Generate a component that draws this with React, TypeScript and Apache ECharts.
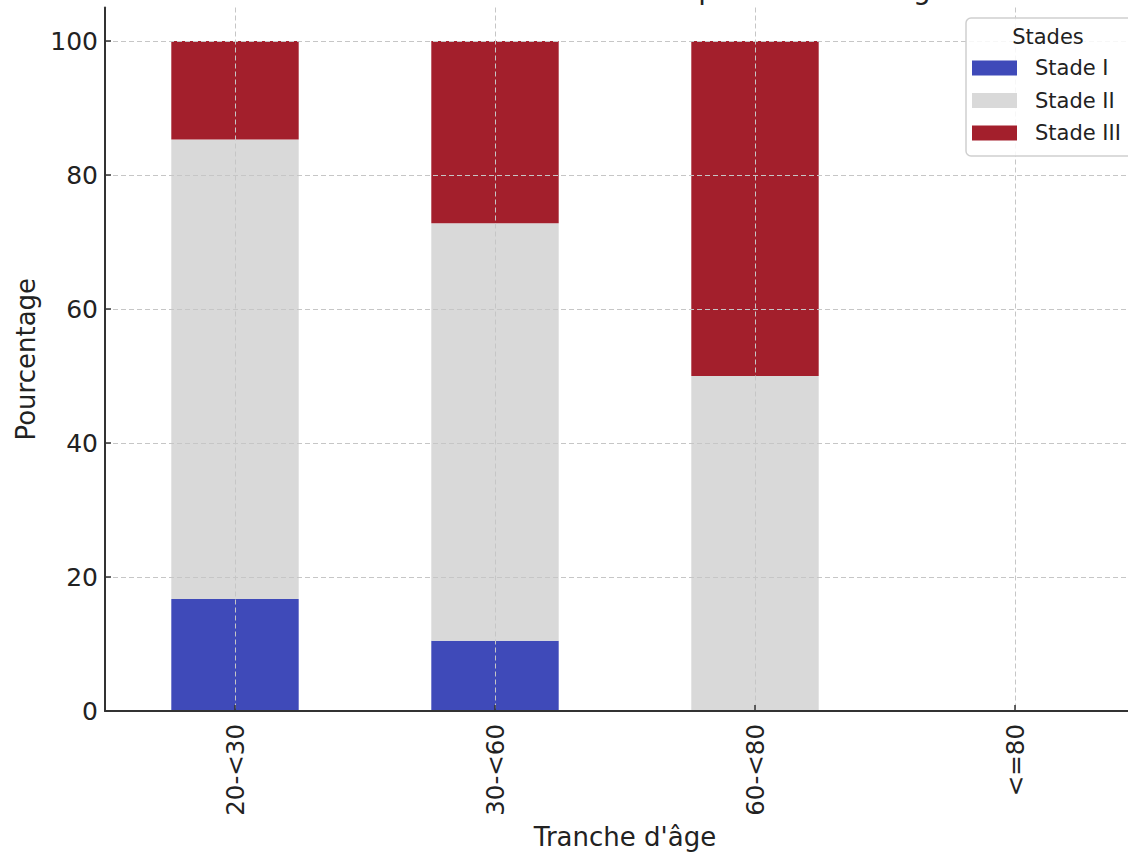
import React, { useEffect, useRef } from "react";
import * as echarts from "echarts";

const categories = ["20-<30", "30-<60", "60-<80", "<=80"];
const stadeI = [16.7, 10.5, 0, 0];
const stadeII = [68.6, 62.3, 50, 0];
const stadeIII = [14.7, 27.2, 50, 0];
const seriesNames = ["Stade I", "Stade II", "Stade III"];
const seriesColors = ["#3f4ab9", "#d9d9d9", "#a31f2c"];
const yTicks = { min: 0, max: 105, interval: 20 };

const FONT = "DejaVu Sans";

export default function App() {
  const ref = useRef<HTMLDivElement>(null);
  useEffect(() => {
    if (!ref.current) return;
    const chart = echarts.init(ref.current, undefined, { renderer: "svg" });
    const values = [stadeI, stadeII, stadeIII];
    const gridLine = { color: "#c6c6c6", width: 1, type: [5, 3] as number[] };
    chart.setOption({
      animation: false,
      backgroundColor: "#ffffff",
      textStyle: { fontFamily: FONT },
      grid: { left: 105, width: 1040, top: 7.5, bottom: 142, containLabel: false, outerBoundsMode: "none" },
      xAxis: {
        type: "category",
        data: categories,
        z: 5,
        name: "Tranche d'âge",
        nameLocation: "middle",
        nameGap: 109,
        nameTextStyle: { fontSize: 26, color: "#222", fontFamily: FONT },
        axisLine: { lineStyle: { color: "#333", width: 2 } },
        axisTick: { show: true, inside: true, alignWithLabel: true, length: 6, lineStyle: { color: "#333", width: 1.5 } },
        axisLabel: { rotate: 90, fontSize: 24.5, color: "#222", margin: 13, fontFamily: FONT },
        splitLine: { show: true, alignWithLabel: true, lineStyle: gridLine },
      },
      yAxis: {
        type: "value",
        min: yTicks.min,
        max: yTicks.max,
        interval: yTicks.interval,
        z: 5,
        name: "Pourcentage",
        nameLocation: "middle",
        nameGap: 63,
        nameTextStyle: { fontSize: 26, color: "#222", fontFamily: FONT },
        axisLine: { show: true, lineStyle: { color: "#333", width: 2 } },
        axisTick: { show: true, inside: true, length: 6, lineStyle: { color: "#333", width: 1.5 } },
        axisLabel: { fontSize: 25, color: "#222", margin: 7, showMaxLabel: false, fontFamily: FONT },
        splitLine: { show: true, showMaxLine: false, lineStyle: gridLine },
      },
      legend: {
        orient: "vertical",
        left: 972,
        top: 57.5,
        padding: 0,
        itemWidth: 45,
        itemHeight: 15,
        itemGap: 11.5,
        icon: "rect",
        z: 20,
        data: seriesNames,
        textStyle: { fontSize: 21, color: "#222", fontFamily: FONT, padding: [0, 0, 0, 13] },
      },
      graphic: [
        {
          type: "rect",
          z: 15,
          shape: { x: 966, y: 18, width: 172, height: 138, r: 5 },
          style: { fill: "rgba(255,255,255,0.85)", stroke: "#cfcfcf", lineWidth: 1.5 },
        },
        {
          type: "text",
          z: 16,
          x: 1048,
          y: 37,
          style: { text: "Stades", font: `21px '${FONT}'`, fill: "#222", textAlign: "center", textVerticalAlign: "middle" },
        },
        {
          type: "text",
          z: 16,
          x: 948,
          y: -10.5,
          style: {
            text: "Distribution des stades par tranche d'âge",
            font: `28px '${FONT}'`,
            fill: "#222",
            textAlign: "right",
            textVerticalAlign: "middle",
          },
        },
      ],
      series: seriesNames.map((name, i) => ({
        name,
        type: "bar",
        stack: "total",
        barWidth: "49%",
        itemStyle: { color: seriesColors[i] },
        data: values[i],
      })),
    });
    return () => chart.dispose();
  }, []);
  return (
    <div
      ref={ref}
      style={{ position: "fixed", left: 0, top: 0, width: 1128, height: 853 }}
    />
  );
}
